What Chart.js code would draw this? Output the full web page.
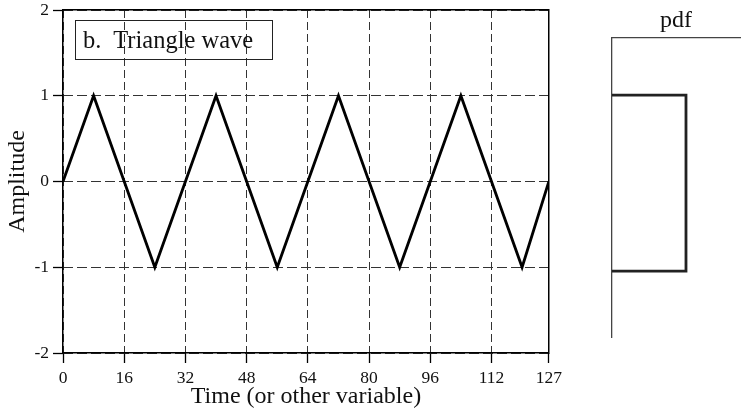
<!DOCTYPE html>
<html>
<head>
<meta charset="utf-8">
<script src="https://cdn.jsdelivr.net/npm/chart.js@4.4.1/dist/chart.umd.min.js"></script>
<style>
  body { margin: 0; background: #fff; }
  #wrap { position: relative; width: 744px; height: 415px; overflow: hidden; }
  #mainBox { position: absolute; left: 0; top: -5px; width: 567px; height: 420px; }
  #pdfBox { position: absolute; left: 600px; top: 0; width: 144px; height: 415px; }
  #label {
    position: absolute; left: 75px; top: 20px; width: 198px; height: 40px;
    border: 1px solid #222; box-sizing: border-box;
    font: 24.5px "Liberation Serif", "DejaVu Serif", serif; color: #111;
    line-height: 37px; padding-left: 7px; white-space: pre;
  }
</style>
</head>
<body>
<div id="wrap">
  <div id="mainBox"><canvas id="wave"></canvas></div>
  <div id="pdfBox"><canvas id="pdf"></canvas></div>
  <div id="label">b.  Triangle wave</div>
</div>
<script>
// valeurs
const timeKnots = [0, 8, 24, 40, 56, 72, 88, 104, 120, 127];
const amplitudeKnots = [0, 1, -1, 1, -1, 1, -1, 1, -1, 0];
const timeTicks = [0, 16, 32, 48, 64, 80, 96, 112, 127];
const amplitudeTicks = [-2, -1, 0, 1, 2];

// densité de probabilité (uniforme entre -1 et 1)
const pdfAmplitude = [1, 1, -1, -1];
const pdfDensity = [0, 0.5, 0.5, 0];

const serif = '"Liberation Serif", "DejaVu Serif", serif';

function fixTicks(values) {
    return scale => { scale.ticks = values.map(v => ({ value: v })); };
}

// axe sans graduations qui ne sert qu'à tracer un bord plein du cadre
function frameAxis(position, min, max, size) {
    return {
        type: 'linear', position: position, min: min, max: max, weight: -1,
        afterFit: s => { if (s.isHorizontal()) s.height = size; else s.width = size; },
        ticks: { display: false },
        grid: { display: false },
        border: { display: true, color: '#000', width: 1.5 }
    };
}

new Chart(document.getElementById('wave'), {
    type: 'line',
    data: {
        datasets: [{
            data: timeKnots.map((t, i) => ({ x: t, y: amplitudeKnots[i] })),
            borderColor: '#000',
            borderWidth: 2.8,
            pointRadius: 0,
            tension: 0
        }]
    },
    options: {
        responsive: true,
        maintainAspectRatio: false,
        animation: false,
        layout: { padding: 0 },
        plugins: { legend: { display: false }, tooltip: { enabled: false } },
        scales: {
            x: {
                type: 'linear', position: 'bottom', min: 0, max: 127,
                afterBuildTicks: fixTicks(timeTicks),
                afterFit: s => { s.height = 62; },
                ticks: { color: '#111', font: { family: serif, size: 17.5 }, padding: 5, maxRotation: 0, autoSkip: false },
                grid: {
                    color: '#333', lineWidth: 1,
                    drawTicks: true, tickLength: 10, tickColor: '#000', tickBorderDash: [], tickWidth: 1.3
                },
                border: { display: false, dash: [8, 4] },
                title: { display: true, text: 'Time (or other variable)', color: '#111', font: { family: serif, size: 24 }, padding: { top: 0, bottom: 4 } }
            },
            y: {
                type: 'linear', position: 'left', min: -2, max: 2,
                afterBuildTicks: fixTicks(amplitudeTicks),
                afterFit: s => { s.width = 63; },
                ticks: { color: '#111', font: { family: serif, size: 17.5 }, padding: 4 },
                grid: {
                    color: '#333', lineWidth: 1,
                    drawTicks: true, tickLength: 10, tickColor: '#000', tickBorderDash: [], tickWidth: 1.3
                },
                border: { display: false, dash: [10, 4] },
                title: { display: true, text: 'Amplitude', color: '#111', font: { family: serif, size: 24 }, padding: { top: 3, bottom: 0 } }
            },
            xBottom: frameAxis('bottom', 0, 127, 0),
            yLeft: frameAxis('left', -2, 2, 0),
            x2: frameAxis('top', 0, 127, 15),
            y2: frameAxis('right', -2, 2, 17)
        }
    }
});

new Chart(document.getElementById('pdf'), {
    type: 'line',
    data: {
        datasets: [{
            data: pdfDensity.map((d, i) => ({ x: d, y: pdfAmplitude[i] })),
            borderColor: '#222',
            borderWidth: 2.8,
            pointRadius: 0,
            tension: 0
        }]
    },
    options: {
        responsive: true,
        maintainAspectRatio: false,
        animation: false,
        layout: { padding: { right: 4, bottom: 78 } },
        plugins: { legend: { display: false }, tooltip: { enabled: false } },
        scales: {
            x: {
                type: 'linear', position: 'top', min: 0, max: 0.865,
                afterFit: s => { s.height = 38; },
                ticks: { display: false },
                grid: { display: false },
                border: { display: true, color: '#444', width: 1.3 },
                title: { display: true, text: 'pdf', color: '#111', font: { family: serif, size: 24 }, padding: { top: 6, bottom: 0 } }
            },
            y: {
                type: 'linear', position: 'left', min: -1.75, max: 1.65,
                afterFit: s => { s.width = 12; },
                ticks: { display: false },
                grid: { display: false },
                border: { display: true, color: '#444', width: 1.3 }
            }
        }
    }
});
</script>
</body>
</html>
